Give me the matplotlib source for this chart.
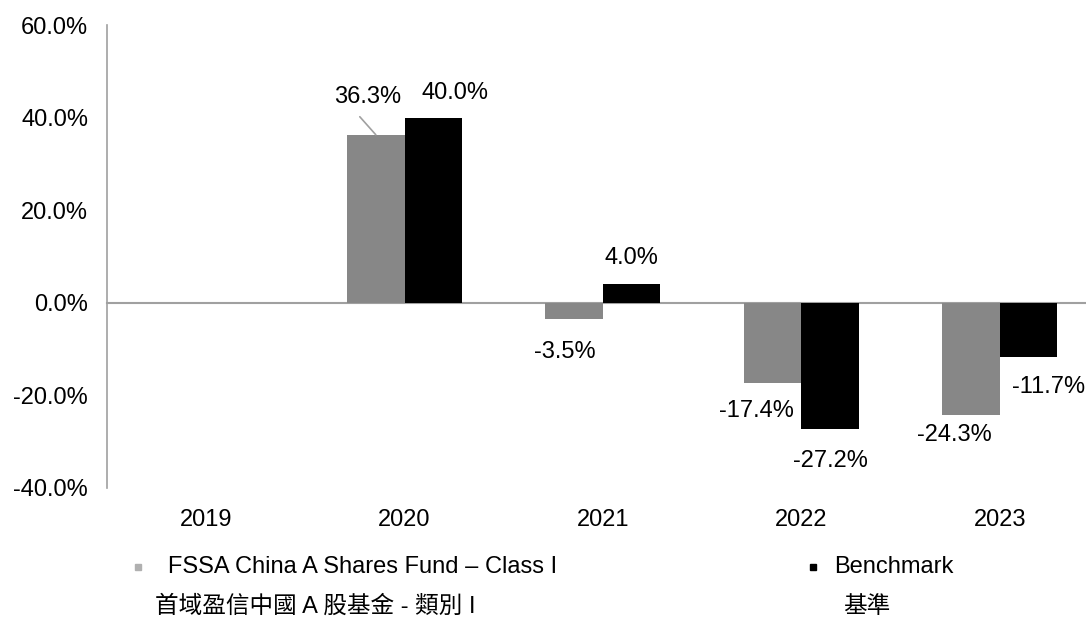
import matplotlib
matplotlib.use("Agg")
from matplotlib import pyplot as plt
from matplotlib.lines import Line2D
import numpy as np

years = ["2019", "2020", "2021", "2022", "2023"]
fund = [np.nan, 36.3, -3.5, -17.4, -24.3]
bench = [np.nan, 40.0, 4.0, -27.2, -11.7]
fund_name = "FSSA China A Shares Fund \u2013 Class I"
fund_name_zh = "首域盈信中國 A 股基金 - 類別 I"
bench_name = "Benchmark"
bench_name_zh = "基準"

plt.rcParams['font.family'] = ['Liberation Sans', 'Noto Sans CJK TC', 'DejaVu Sans']
FS = 17
GREY = "#878787"
AXIS = "#a0a0a0"

fig = plt.figure(figsize=(10.86, 6.18), dpi=100)
ax = fig.add_axes([0.0985, 0.2104, 0.9134, 0.7491])

x = np.arange(len(years))
w = 0.29
ax.bar(x - w/2, fund, w, color=GREY)
ax.bar(x + w/2, bench, w, color="black")

ax.set_xlim(-0.5, 4.5)
ax.set_ylim(-40, 60)
ax.set_yticks(np.arange(-40, 61, 20))
ax.set_yticklabels([f"{v:.1f}%" for v in np.arange(-40, 61, 20)])
ax.set_xticks(x)
ax.set_xticklabels(years)
ax.tick_params(axis='y', length=0, pad=13.5, labelsize=FS)
ax.tick_params(axis='x', length=0, pad=15, labelsize=FS)
for s in ["top", "right", "bottom"]:
    ax.spines[s].set_visible(False)
ax.spines["left"].set_color(AXIS)
ax.spines["left"].set_linewidth(1.2)
ax.axhline(0, color=AXIS, lw=1.5, clip_on=False, zorder=0)

# label offsets in pixels (fund, bench) per year
fund_off = [None, (-8, 38), (-9, -33), (-16, -28), (-17, -20)]
bench_off = [None, (22, 25), (0, 26), (0, -32), (20, -30)]

for i in range(len(years)):
    for vals, offs, dx in ((fund, fund_off, -w/2), (bench, bench_off, w/2)):
        v = vals[i]
        if np.isnan(v):
            continue
        ax.annotate(f"{v:.1f}%", xy=(x[i] + dx, v), xytext=offs[i],
                    textcoords='offset pixels', ha='center', va='center',
                    fontsize=FS, annotation_clip=False)

# leader line for the 2020 fund label
ax.annotate("", xy=(x[1] - w/2, fund[1]), xytext=(-16, 18),
            textcoords='offset pixels',
            arrowprops=dict(arrowstyle='-', color=AXIS, lw=1.2,
                            shrinkA=0, shrinkB=0))

# legend
def fy(py):
    return 1 - py / 618

fig.add_artist(Line2D([138 / 1086], [fy(567)], marker='s', markersize=4.3,
                      color="#b0b0b0", lw=0, transform=fig.transFigure))
fig.add_artist(Line2D([813 / 1086], [fy(567)], marker='s', markersize=4,
                      color="black", lw=0, transform=fig.transFigure))
fig.text(168 / 1086, fy(567), fund_name, fontsize=FS, va='center')
fig.text(155 / 1086, fy(607), fund_name_zh, fontsize=FS, va='center')
fig.text(834 / 1086, fy(567), bench_name, fontsize=FS, va='center')
fig.text(843 / 1086, fy(607), bench_name_zh, fontsize=FS, va='center')

fig.savefig("out.png", dpi=100)
